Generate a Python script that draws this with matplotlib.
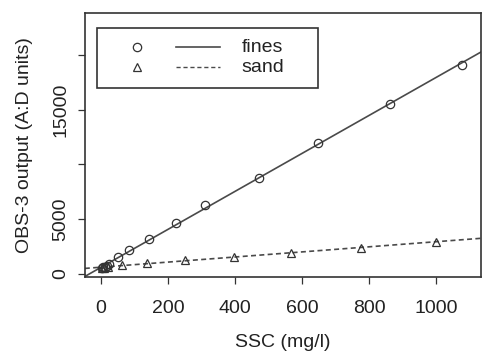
import matplotlib.pyplot as plt
import numpy as np
from matplotlib.patches import Rectangle
from matplotlib.lines import Line2D

plt.rcParams['font.family'] = ['Liberation Sans', 'DejaVu Sans']

# OBS-3 calibration: sensor output against suspended sediment concentration
fines_ssc = [2, 6, 11, 17, 25, 52, 83, 143, 224, 310, 472, 648, 861, 1078]
fines_obs = [520, 590, 660, 740, 860, 1520, 2190, 3170, 4630, 6300, 8730, 11980, 15510, 19070]

sand_ssc = [3, 10, 20, 62, 138, 250, 396, 567, 775, 1000]
sand_obs = [520, 560, 610, 820, 1030, 1280, 1580, 1890, 2345, 2950]

x_ticks = [0, 200, 400, 600, 800, 1000]
y_ticks = [0, 5000, 10000, 15000, 20000]
y_tick_labels = ['0', '5000', '', '15000', '']

FS = 14
fig = plt.figure(figsize=(4.82, 3.54), dpi=100)
ax = fig.add_axes([0.176, 0.218, 0.822, 0.745])

xlim = (-48, 1134)
ax.set_xlim(*xlim)
ax.set_ylim(-270, 23800)

# least-squares lines through each series
xx = np.array(xlim)
for ssc, obs, ls in [(fines_ssc, fines_obs, '-'), (sand_ssc, sand_obs, (0, (3, 2)))]:
    b, a = np.polyfit(ssc, obs, 1)
    ax.plot(xx, a + b * xx, color='#4a4a4a', lw=1.2, ls=ls, zorder=2)

ax.plot(fines_ssc, fines_obs, 'o', ms=6, mfc='none', mec='#333333', mew=0.9, zorder=3)
ax.plot(sand_ssc, sand_obs, '^', ms=6, mfc='none', mec='#333333', mew=0.9, zorder=3)

ax.set_xticks(x_ticks)
ax.set_yticks(y_ticks)
ax.set_yticklabels(y_tick_labels, rotation=90, va='center')
ax.tick_params(direction='out', length=5, width=0.9, labelsize=FS,
               color='#333333', labelcolor='#222222')
ax.tick_params(axis='x', pad=12)
ax.tick_params(axis='y', pad=6)
for s in ax.spines.values():
    s.set_linewidth(1.2)
    s.set_color('#333333')

ax.set_xlabel('SSC (mg/l)', fontsize=FS, color='#222222', labelpad=12)
ax.set_ylabel('OBS-3 output (A:D units)', fontsize=FS, color='#222222', labelpad=14)

# legend box with marker column, line column and label column
t = ax.transAxes
ax.add_patch(Rectangle((0.030, 0.715), 0.558, 0.230, transform=t,
                       fill=False, ec='#333333', lw=1.2, zorder=4))
rows = [('o', '-', 'fines', 0.87), ('^', (0, (3, 2)), 'sand', 0.795)]
for mk, ls, lab, yy in rows:
    ax.add_line(Line2D([0.132], [yy], transform=t, marker=mk, ms=6, mfc='none',
                       mec='#333333', mew=0.9, ls='none'))
    ax.add_line(Line2D([0.230, 0.340], [yy, yy], transform=t, color='#4a4a4a',
                       lw=1.2 if ls == '-' else 1.0, ls=ls))
    ax.text(0.395, yy, lab, transform=t, ha='left', va='center',
            fontsize=FS, color='#222222')

fig.savefig('out.png', dpi=100)
